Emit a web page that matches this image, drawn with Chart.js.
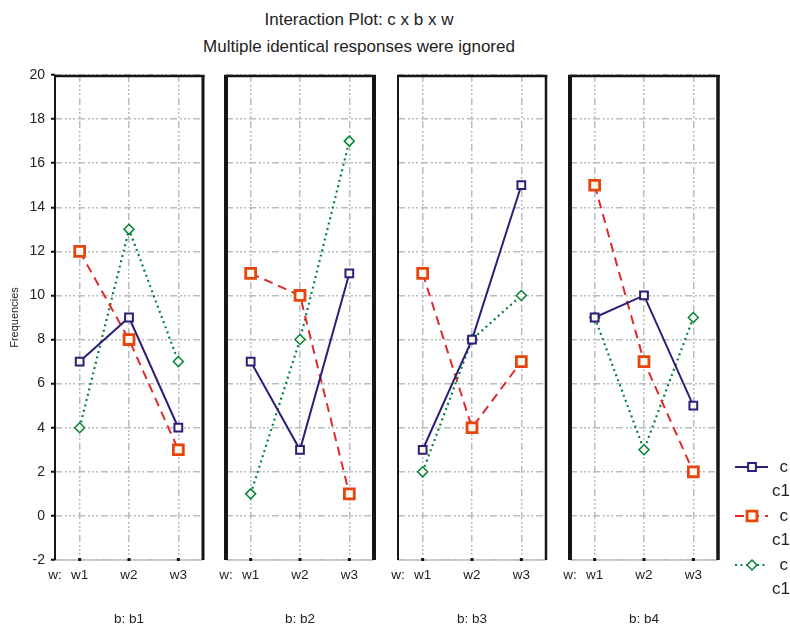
<!DOCTYPE html>
<html>
<head>
<meta charset="utf-8">
<title>Interaction Plot: c x b x w</title>
<script src="https://cdn.jsdelivr.net/npm/chart.js@4.4.1/dist/chart.umd.min.js"></script>
<style>
  html, body { margin: 0; padding: 0; background: #fff; }
  #wrap { position: relative; width: 790px; height: 626px; overflow: hidden; font-family: "Liberation Sans", Arial, sans-serif; }
  #wrap canvas { position: absolute; left: 0; top: 0; }
  .title { position: absolute; left: 0; width: 718px; text-align: center; font-size: 17px; line-height: 20px; color: #222; }
</style>
</head>
<body>
<div id="wrap">
  <div class="title" style="top:10px">Interaction Plot: c x b x w</div>
  <div class="title" style="top:37px">Multiple identical responses were ignored</div>
  <canvas id="p1" width="790" height="626"></canvas>
  <canvas id="p2" width="790" height="626"></canvas>
  <canvas id="p3" width="790" height="626"></canvas>
  <canvas id="p4" width="790" height="626"></canvas>
</div>
<script>
// categories and values, one entry per b panel
const weeks = ['w1', 'w2', 'w3'];
const panels = ['b1', 'b2', 'b3', 'b4'];
const solidSeries  = [[7, 9, 4], [7, 3, 11], [3, 8, 15], [9, 10, 5]];
const dashedSeries = [[12, 8, 3], [11, 10, 1], [11, 4, 7], [15, 7, 2]];
const dottedSeries = [[4, 13, 7], [1, 8, 17], [2, 8, 10], [9, 3, 9]];
const legendTop = ['c', 'c', 'c'];
const legendBottom = ['c1', 'c1', 'c1'];
const yMin = -2, yMax = 20, yStep = 2;

// layout
const W = 790, H = 626;
const plotTop = 75, plotBottom = 560;
const panelLeft = [55, 226, 398, 570];
const panelWidth = 148;
const frameSides = [[2, 3], [4, 4], [2, 2.5], [4, 3.5]];

const FONT = '"Liberation Sans", Arial, sans-serif';
const gridColor = '#b8bcc3';
const gridDash = [7, 3, 2, 2, 2, 2, 2, 3];
const paper = '#fbf8ee';

const seriesStyles = [
  { color: '#2d1e78', point: '#2d1e78', dash: [], width: 2, style: 'rect', radius: 5.5, pw: 2 },
  { color: '#e02a2a', point: '#e8440e', dash: [9, 6], width: 2, style: 'rect', radius: 7, pw: 2.8 },
  { color: '#00843a', point: '#00843a', dash: [2, 3.5], width: 2.2, style: 'rectRot', radius: 5, pw: 1.5 }
];

function dataset(values, s) {
  return {
    data: values,
    borderColor: s.color,
    borderWidth: s.width,
    borderDash: s.dash,
    pointStyle: s.style,
    pointRadius: s.radius,
    pointBorderColor: s.point,
    pointBorderWidth: s.pw,
    pointBackgroundColor: paper,
    tension: 0,
    fill: false
  };
}

// heavy frame, light bottom axis with category ticks and the "w:" prefix
const framePlugin = {
  id: 'frame',
  afterDraw(chart, args, opts) {
    const { ctx, chartArea: a, scales } = chart;
    ctx.save();
    ctx.strokeStyle = '#c2c2c2';
    ctx.lineWidth = 1.5;
    ctx.beginPath();
    ctx.moveTo(a.left, a.bottom);
    ctx.lineTo(a.right, a.bottom);
    ctx.stroke();
    ctx.fillStyle = '#111';
    weeks.forEach((w, k) => {
      const x = scales.x.getPixelForValue(k);
      ctx.fillRect(x - 1.5, a.bottom - 2, 3, 3);
    });

    ctx.strokeStyle = '#151515';
    ctx.lineWidth = 2.5;
    ctx.beginPath();
    ctx.moveTo(a.left - opts.left / 2, a.top + 1);
    ctx.lineTo(a.right + opts.right / 2, a.top + 1);
    ctx.stroke();
    ctx.lineWidth = opts.left;
    ctx.beginPath();
    ctx.moveTo(a.left, a.top);
    ctx.lineTo(a.left, a.bottom);
    ctx.stroke();
    ctx.lineWidth = opts.right;
    ctx.beginPath();
    ctx.moveTo(a.right, a.top);
    ctx.lineTo(a.right, a.bottom);
    ctx.stroke();

    ctx.fillStyle = '#222';
    ctx.font = '13.5px ' + FONT;
    ctx.textAlign = 'center';
    ctx.textBaseline = 'middle';
    ctx.fillText('w:', a.left, a.bottom + 15);
    ctx.restore();
  }
};

function drawMarker(ctx, style, x, y, r) {
  ctx.beginPath();
  if (style === 'rectRot') {
    ctx.moveTo(x, y - r);
    ctx.lineTo(x + r, y);
    ctx.lineTo(x, y + r);
    ctx.lineTo(x - r, y);
    ctx.closePath();
  } else {
    const h = r * Math.SQRT1_2;
    ctx.rect(x - h, y - h, 2 * h, 2 * h);
  }
  ctx.fill();
  ctx.stroke();
}

// legend at the right edge: line sample, marker, two text rows
const legendPlugin = {
  id: 'sideLegend',
  afterDraw(chart) {
    const ctx = chart.ctx;
    ctx.save();
    chart.data.datasets.forEach((ds, k) => {
      const y = 467 + k * 49;
      ctx.strokeStyle = ds.borderColor;
      ctx.lineWidth = ds.borderWidth;
      ctx.setLineDash(ds.borderDash);
      ctx.beginPath();
      ctx.moveTo(735, y);
      ctx.lineTo(768, y);
      ctx.stroke();
      ctx.setLineDash([]);
      ctx.fillStyle = ds.pointBackgroundColor;
      ctx.strokeStyle = ds.pointBorderColor;
      ctx.lineWidth = ds.pointBorderWidth;
      drawMarker(ctx, ds.pointStyle, 752, y, ds.pointRadius);
      ctx.fillStyle = '#222';
      ctx.font = '17px ' + FONT;
      ctx.textAlign = 'right';
      ctx.textBaseline = 'middle';
      ctx.fillText(legendTop[k], 788, y);
      ctx.fillText(legendBottom[k], 790, y + 24);
    });
    ctx.restore();
  }
};

function makePanel(i) {
  const first = i === 0;
  const yAxisW = first ? 55 : 0;
  const left = panelLeft[i];
  const right = left + panelWidth;
  const plugins = [framePlugin];
  if (i === panels.length - 1) plugins.push(legendPlugin);

  new Chart(document.getElementById('p' + (i + 1)), {
    type: 'line',
    data: {
      labels: weeks,
      datasets: [
        dataset(solidSeries[i], seriesStyles[0]),
        dataset(dashedSeries[i], seriesStyles[1]),
        dataset(dottedSeries[i], seriesStyles[2])
      ]
    },
    options: {
      responsive: false,
      animation: false,
      events: [],
      layout: { padding: { left: left - yAxisW, right: W - right, top: plotTop, bottom: 0 } },
      plugins: {
        legend: { display: false },
        tooltip: { enabled: false },
        frame: { left: frameSides[i][0], right: frameSides[i][1] }
      },
      scales: {
        x: {
          offset: true,
          grid: { offset: false, color: gridColor, lineWidth: 1.5, drawTicks: false },
          border: { display: false, dash: gridDash },
          ticks: { color: '#222', padding: 7, font: { family: FONT, size: 13.5 } },
          title: {
            display: true, text: 'b: ' + panels[i], color: '#222',
            padding: 0, font: { family: FONT, size: 13.5, lineHeight: 1 }
          },
          afterFit: s => { s.height = H - plotBottom; }
        },
        y: {
          min: yMin, max: yMax,
          grid: {
            color: gridColor, lineWidth: 1.5,
            drawTicks: first, tickLength: 4, tickColor: '#111', tickWidth: 2
          },
          border: { display: false, dash: gridDash },
          ticks: {
            display: first, stepSize: yStep, padding: 6, color: '#222',
            font: { family: FONT, size: 14 }
          },
          title: {
            display: first, text: 'Frequencies', color: '#222',
            padding: { top: 8.4, bottom: 0 }, font: { family: FONT, size: 11 }
          },
          afterFit: s => { s.width = yAxisW; }
        }
      }
    },
    plugins: plugins
  });
}

panels.forEach((p, i) => makePanel(i));
</script>
</body>
</html>
